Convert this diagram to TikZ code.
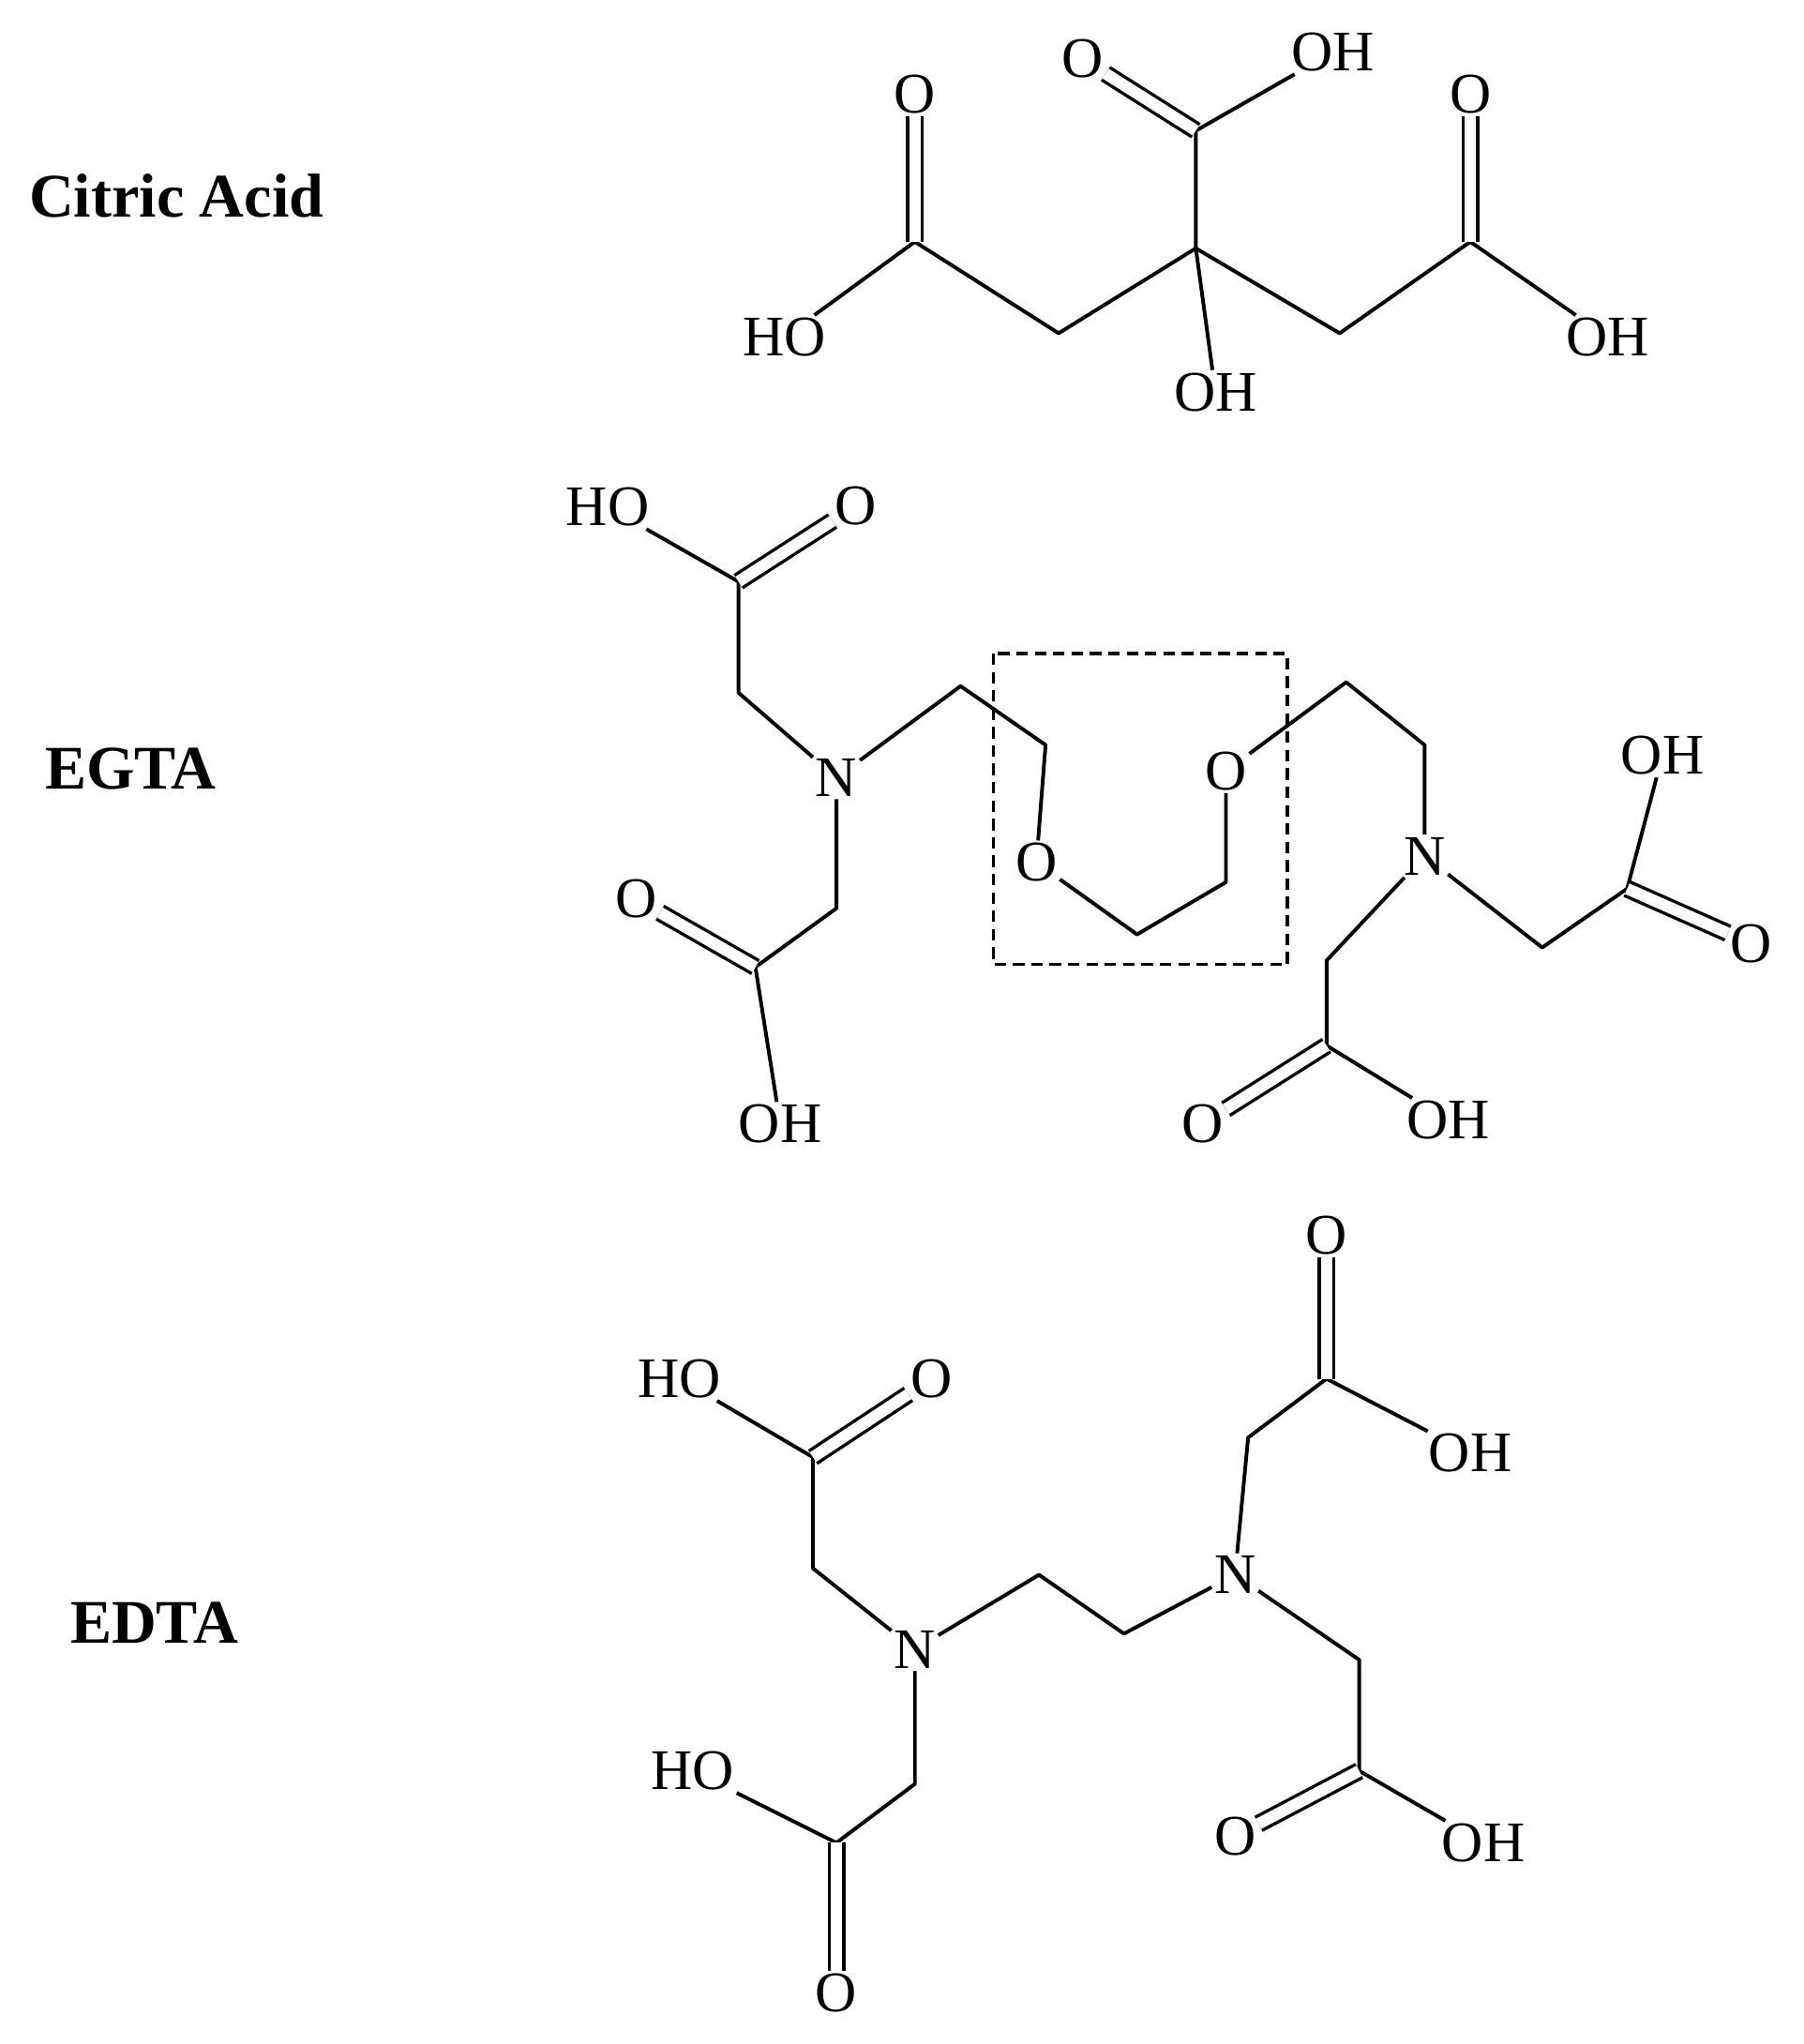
\documentclass[tikz,border=0pt]{standalone}
\usepackage{fontspec}
\setmainfont{Liberation Serif}
\begin{document}
\begin{tikzpicture}[x=0.02cm,y=-0.02cm,
  atom/.style={inner sep=1pt,font=\fontsize{25}{28}\selectfont},
  ttl/.style={font=\fontsize{27}{30}\selectfont\bfseries},
  bond/.style={line width=1.6pt,line join=round},
  dbl/.style={line width=1.4pt,double,double distance=5pt},
  box/.style={line width=1.3pt,dash pattern=on 5pt off 3pt}]
\useasboundingbox (0,0) rectangle (1380,1564);
% ---------- Citric acid
\node[ttl] (tca) at (135,150) {Citric Acid};
\coordinate (cc) at (915,190);
\coordinate (cu) at (915,100);
\node[atom] (o1) at (828,45) {O};
\node[atom] (oh1) at (1020,40) {OH};
\coordinate (cl) at (810,255);
\coordinate (clc) at (700,185);
\node[atom] (o2) at (700,72) {O};
\node[atom] (ho2) at (600,258) {HO};
\coordinate (cr) at (1025,255);
\coordinate (crc) at (1125,185);
\node[atom] (o3) at (1125,72) {O};
\node[atom] (oh3) at (1230,258) {OH};
\node[atom] (oh4) at (930,300) {OH};
\draw[bond] (oh4) -- (cc) -- (cu) -- (oh1);
\draw[dbl] (cu) -- (o1);
\draw[bond] (cc) -- (cl) -- (clc) -- (ho2);
\draw[dbl] (clc) -- (o2);
\draw[bond] (cc) -- (cr) -- (crc) -- (oh3);
\draw[dbl] (crc) -- (o3);
% ---------- EGTA
\node[ttl] (tegta) at (100,588) {EGTA};
\node[atom] (n1) at (640,595) {N};
\coordinate (a1) at (565,530);
\coordinate (a1c) at (565,445);
\node[atom] (ao1) at (655,387) {O};
\node[atom] (aho1) at (465,388) {HO};
\draw[bond] (n1) -- (a1) -- (a1c) -- (aho1);
\draw[dbl] (a1c) -- (ao1);
\coordinate (a2) at (640,695);
\coordinate (a2c) at (578,740);
\node[atom] (ao2) at (487,688) {O};
\node[atom] (aoh2) at (597,860) {OH};
\draw[bond] (n1) -- (a2) -- (a2c) -- (aoh2);
\draw[dbl] (a2c) -- (ao2);
\coordinate (e1) at (735,525);
\coordinate (e2) at (800,570);
\node[atom] (eo1) at (793,660) {O};
\coordinate (e3) at (870,715);
\coordinate (e4) at (938,675);
\node[atom] (eo2) at (938,590) {O};
\coordinate (e5) at (1030,522);
\coordinate (e6) at (1090,570);
\node[atom] (n2) at (1090,655) {N};
\draw[bond] (n1) -- (e1) -- (e2) -- (eo1) -- (e3) -- (e4) -- (eo2) -- (e5) -- (e6) -- (n2);
\draw[box] (760,500) rectangle (985,738);
\coordinate (b1) at (1180,725);
\coordinate (b1c) at (1245,680);
\node[atom] (bo1) at (1340,722) {O};
\node[atom] (boh1) at (1272,578) {OH};
\draw[bond] (n2) -- (b1) -- (b1c) -- (boh1);
\draw[dbl] (b1c) -- (bo1);
\coordinate (b2) at (1015,735);
\coordinate (b2c) at (1015,800);
\node[atom] (bo2) at (920,860) {O};
\node[atom] (boh2) at (1108,857) {OH};
\draw[bond] (n2) -- (b2) -- (b2c) -- (boh2);
\draw[dbl] (b2c) -- (bo2);
% ---------- EDTA
\node[ttl] (tedta) at (118,1242) {EDTA};
\node[atom] (m1) at (700,1262) {N};
\coordinate (d1) at (622,1200);
\coordinate (d1c) at (622,1115);
\node[atom] (do1) at (713,1055) {O};
\node[atom] (dho1) at (520,1055) {HO};
\draw[bond] (m1) -- (d1) -- (d1c) -- (dho1);
\draw[dbl] (d1c) -- (do1);
\coordinate (d2) at (700,1365);
\coordinate (d2c) at (640,1410);
\node[atom] (do2) at (640,1525) {O};
\node[atom] (dho2) at (530,1355) {HO};
\draw[bond] (m1) -- (d2) -- (d2c) -- (dho2);
\draw[dbl] (d2c) -- (do2);
\coordinate (f1) at (795,1205);
\coordinate (f2) at (860,1250);
\node[atom] (m2) at (945,1205) {N};
\draw[bond] (m1) -- (f1) -- (f2) -- (m2);
\coordinate (g1) at (955,1100);
\coordinate (g1c) at (1015,1055);
\node[atom] (go1) at (1015,945) {O};
\node[atom] (goh1) at (1125,1112) {OH};
\draw[bond] (m2) -- (g1) -- (g1c) -- (goh1);
\draw[dbl] (g1c) -- (go1);
\coordinate (g2) at (1040,1270);
\coordinate (g2c) at (1040,1355);
\node[atom] (go2) at (945,1405) {O};
\node[atom] (goh2) at (1135,1410) {OH};
\draw[bond] (m2) -- (g2) -- (g2c) -- (goh2);
\draw[dbl] (g2c) -- (go2);
\end{tikzpicture}
\end{document}
